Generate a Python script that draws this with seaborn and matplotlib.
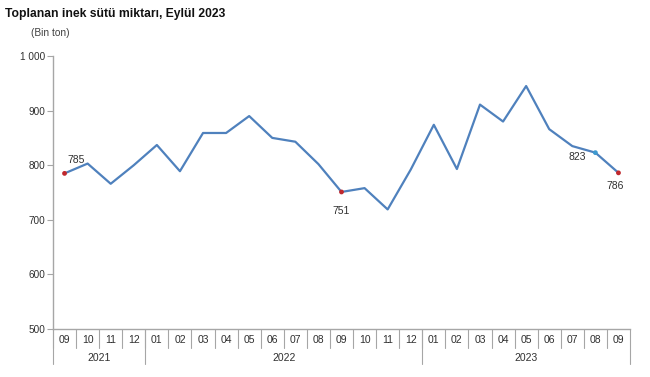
import matplotlib
matplotlib.use("Agg")
import matplotlib.pyplot as plt
import matplotlib.transforms as mtransforms
import seaborn as sns
import pandas as pd

# aylar (2021-09 .. 2023-09)
aylar = ["09", "10", "11", "12",
         "01", "02", "03", "04", "05", "06", "07", "08", "09", "10", "11", "12",
         "01", "02", "03", "04", "05", "06", "07", "08", "09"]
yillar = ["2021", "2022", "2023"]
yil_ay_sayisi = [4, 12, 9]
miktar = [785, 803, 766, 800, 837, 789, 859, 859, 890, 850, 843, 802, 751,
          758, 719, 792, 874, 793, 911, 880, 945, 866, 835, 823, 786]
kirmizi_idx = [0, 12, 24]
mavi_idx = [23]
etiketler = {0: (12, 13), 12: (0, -19), 23: (-18, -4), 24: (-3, -13)}

sns.set_style("white")
plt.rcParams["font.family"] = ["Liberation Sans", "DejaVu Sans"]

df = pd.DataFrame({"x": range(len(miktar)), "miktar": miktar})

fig = plt.figure(figsize=(6.5, 3.77), dpi=100)
ax = fig.add_axes([53 / 650, 48 / 377, 577 / 650, 273 / 377])

sns.lineplot(data=df, x="x", y="miktar", ax=ax, color="#4F81BD", linewidth=1.6)
sns.scatterplot(data=df.iloc[kirmizi_idx], x="x", y="miktar", ax=ax,
                color="#C0282D", s=12, marker="o", edgecolor="none", zorder=3)
sns.scatterplot(data=df.iloc[mavi_idx], x="x", y="miktar", ax=ax,
                color="#3E9AD0", s=12, marker="o", edgecolor="none", zorder=3)

for i, (dx, dy) in etiketler.items():
    ax.annotate(str(miktar[i]), (i, miktar[i]), xytext=(dx, dy),
                textcoords="offset pixels", ha="center", va="center",
                fontsize=7.5, color="#303030")

ax.set_xlim(-0.5, len(miktar) - 0.5)
ax.set_ylim(500, 1000)
ax.set_yticks([500, 600, 700, 800, 900, 1000])
ax.set_yticklabels(["500", "600", "700", "800", "900", "1 000"])
ax.set_xticks([])
ax.set_xlabel("")
ax.set_ylabel("")
for s in ["top", "right"]:
    ax.spines[s].set_visible(False)
for s in ["left", "bottom"]:
    ax.spines[s].set_color("#A6A6A6")
    ax.spines[s].set_linewidth(1)
ax.tick_params(axis="y", left=True, length=4, color="#A6A6A6",
               labelsize=7.2, labelcolor="#303030", pad=1.5)

# iki seviyeli kategori ekseni
tr = mtransforms.blended_transform_factory(ax.transData, ax.transAxes)
for i, ay in enumerate(aylar):
    ax.text(i, -0.04, ay, transform=tr, ha="center", va="center",
            fontsize=7.5, color="#303030")
    ax.plot([i - 0.5, i - 0.5], [0, -0.07], transform=tr, color="#A6A6A6",
            lw=0.8, clip_on=False)
bas = 0
for yil, n in zip(yillar, yil_ay_sayisi):
    ax.plot([bas - 0.5, bas - 0.5], [0, -0.13], transform=tr, color="#A6A6A6",
            lw=0.8, clip_on=False)
    ax.text(bas + (n - 1) / 2, -0.105, yil, transform=tr, ha="center",
            va="center", fontsize=7.5, color="#303030")
    bas += n
ax.plot([bas - 0.5, bas - 0.5], [0, -0.13], transform=tr, color="#A6A6A6",
        lw=0.8, clip_on=False)

fig.text(5 / 650, 1 - 14 / 377, "Toplanan inek sütü miktarı, Eylül 2023",
         fontsize=8.7, fontweight="bold", va="center", ha="left", color="#111111")
fig.text(50 / 650, 1 - 33 / 377, "(Bin ton)", fontsize=7.3, va="center",
         ha="center", color="#404040")

fig.savefig("out.png", dpi=100)
